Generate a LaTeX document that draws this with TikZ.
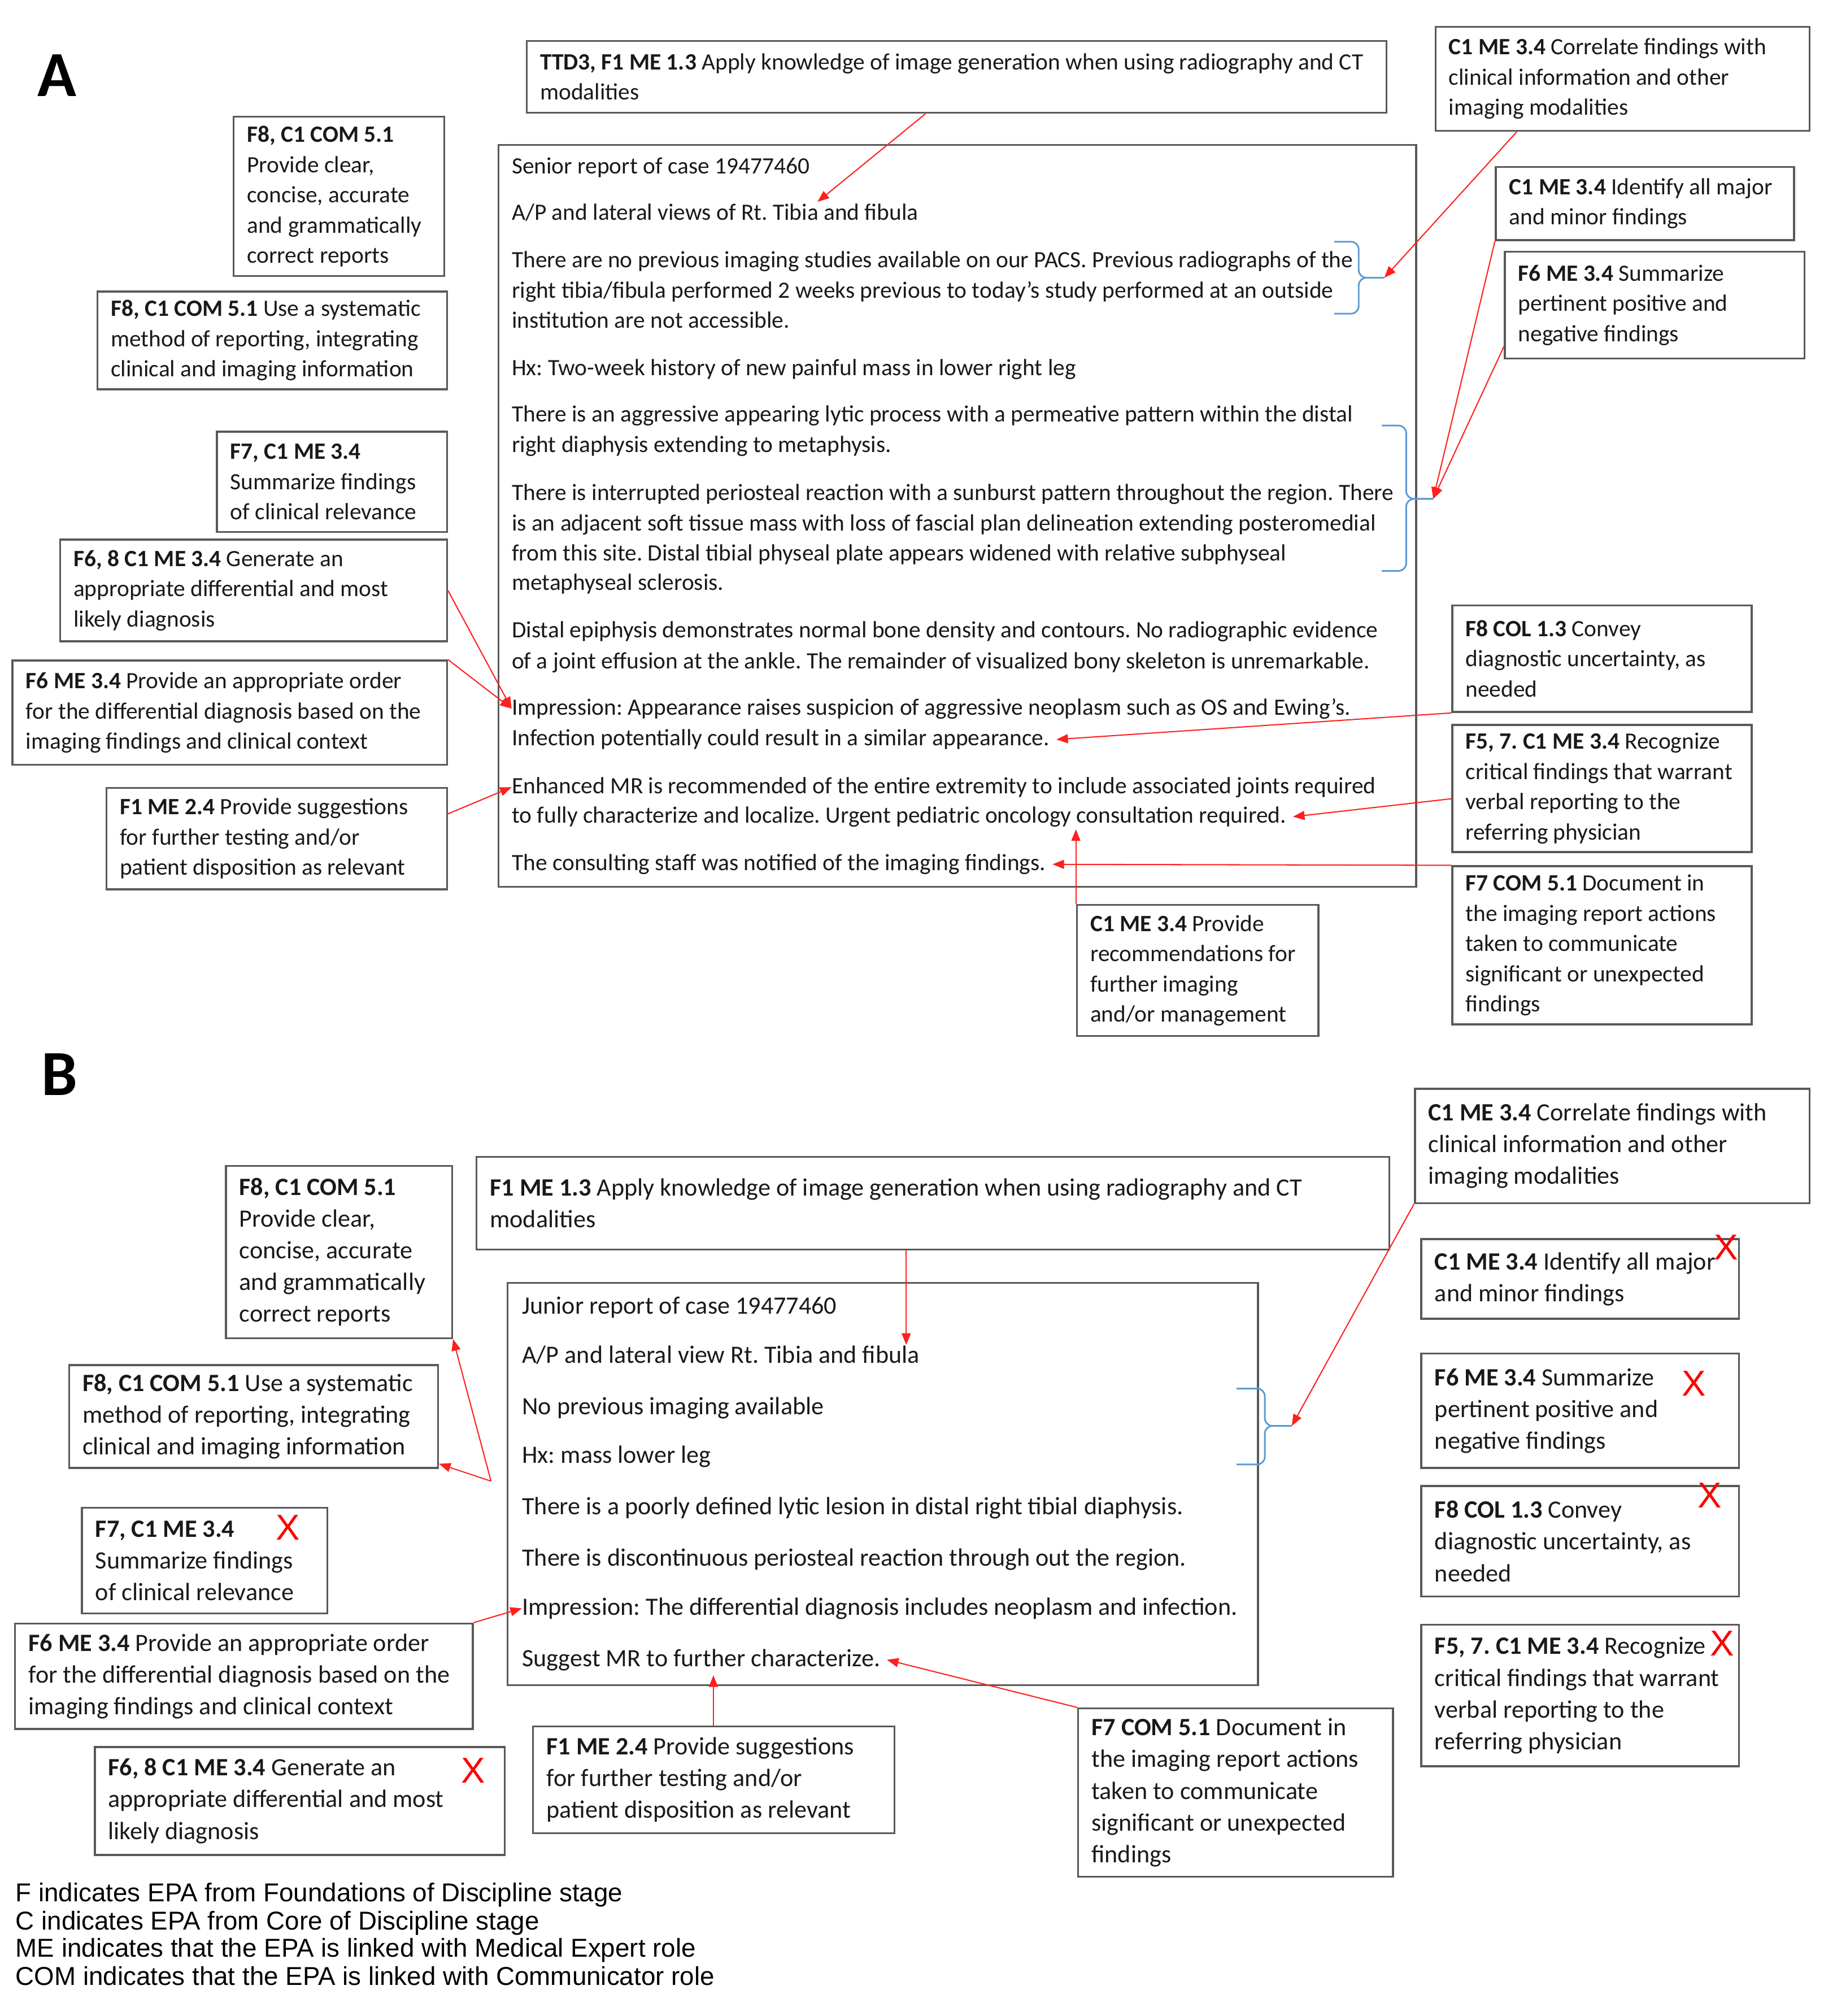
\documentclass[tikz,border=0pt]{standalone}
\usepackage{fontspec}
\setmainfont{Carlito}
\newfontfamily\legfont{Liberation Sans}
\usetikzlibrary{arrows.meta}
\definecolor{boxgray}{HTML}{595959}
\definecolor{brblue}{HTML}{5B9BD5}
\definecolor{arred}{HTML}{FF1F1F}
\newcommand\fA{\fontsize{18.2}{23.5}\selectfont}
\newcommand\fB{\fontsize{19.4}{24.7}\selectfont}
\newcommand\bx[7]{%
  \node[frame, minimum width=#4pt, minimum height=#5pt] (#1) at (#2,#3) {};
  \node[btext, font=#6] (#1t) at ([xshift=11pt]#1.west) {#7};}
\newcommand\brc[7]{%
  \draw[bracepath] (#2,#5) -- (#3,#5) -- (#3,#6) -- (#4,#6);
  \draw[bracepath] (#2,#7) -- (#3,#7) -- (#3,#6) -- (#4,#6);
  \coordinate (#1) at (#4,#6);}
\begin{document}
\frenchspacing
\begin{tikzpicture}[x=1pt,y=-1pt,
  frame/.style={draw=boxgray, line width=1.5pt, anchor=north west, inner sep=0pt},
  btext/.style={anchor=west, align=left, inner sep=0pt, text=black!90},
  rlA/.style={anchor=base west, inner sep=0pt, font=\fA, text=black!90},
  rlB/.style={anchor=base west, inner sep=0pt, font=\fB, text=black!90},
  arr/.style={draw=arred, line width=0.9pt, -{Triangle[length=9pt,width=7pt]}},
  bracepath/.style={draw=brblue, line width=1.3pt, rounded corners=6pt},
  xmark/.style={text=red, font=\legfont\fontsize{28}{28}\selectfont, inner sep=0pt},
  panel/.style={anchor=base west, inner sep=0pt, font=\bfseries\fontsize{50}{50}\selectfont},
  leg/.style={anchor=base west, inner sep=0pt, font=\legfont\fontsize{20.1}{21.7}\selectfont}]
\useasboundingbox (0,0) rectangle (1419,1568);

% ---------------- Panel A ----------------
\node[panel] (labA) at (29,75) {A};

\bx{ttdA}{409}{31}{669}{56}{\fA}{\textbf{TTD3, F1 ME 1.3} Apply knowledge of image generation when using radiography and CT\\modalities}
\bx{corA}{1116}{20}{291}{81}{\fA}{\textbf{C1 ME 3.4} Correlate findings with\\clinical information and other\\imaging modalities}
\bx{idA}{1163}{129}{232}{57}{\fA}{\textbf{C1 ME 3.4} Identify all major\\and minor findings}
\bx{sumA}{1170}{195}{233}{83}{\fA}{\textbf{F6 ME 3.4} Summarize\\pertinent positive and\\negative findings}
\bx{provA}{181}{90}{164}{124}{\fA}{\textbf{F8, C1 COM 5.1}\\Provide clear,\\concise, accurate\\and grammatically\\correct reports}
\bx{useA}{75}{226}{272}{76}{\fA}{\textbf{F8, C1 COM 5.1} Use a systematic\\method of reporting, integrating\\clinical and imaging information}
\bx{f7A}{168}{335}{179}{78}{\fA}{\textbf{F7, C1 ME 3.4}\\Summarize findings\\of clinical relevance}
\bx{genA}{46}{419}{301}{79}{\fA}{\textbf{F6, 8 C1 ME 3.4} Generate an\\appropriate differential and most\\likely diagnosis}
\bx{ordA}{9}{513}{338}{81}{\fA}{\textbf{F6 ME 3.4} Provide an appropriate order\\for the differential diagnosis based on the\\imaging findings and clinical context}
\bx{f1A}{82}{612}{265}{79}{\fA}{\textbf{F1 ME 2.4} Provide suggestions\\for further testing and/or\\patient disposition as relevant}
\bx{colA}{1129}{470}{233}{83}{\fA}{\textbf{F8 COL 1.3} Convey\\diagnostic uncertainty, as\\needed}
\bx{recA}{1129}{563}{233}{99}{\fA}{\textbf{F5, 7. C1 ME 3.4} Recognize\\critical findings that warrant\\verbal reporting to the\\referring physician}
\bx{docA}{1129}{673}{233}{123}{\fA}{\textbf{F7 COM 5.1} Document in\\the imaging report actions\\taken to communicate\\significant or unexpected\\findings}
\bx{furA}{837}{703}{188}{102}{\fA}{\textbf{C1 ME 3.4} Provide\\recommendations for\\further imaging\\and/or management}

\node[frame, minimum width=714pt, minimum height=577pt] (repA) at (387,112) {};
\node[rlA] (a1) at (398,135) {Senior report of case 19477460};
\node[rlA] (a2) at (398,171) {A/P and lateral views of Rt. Tibia and fibula};
\node[rlA] (a3) at (398,208) {There are no previous imaging studies available on our PACS. Previous radiographs of the};
\node[rlA] (a4) at (398,232) {right tibia/fibula performed 2 weeks previous to today’s study performed at an outside};
\node[rlA] (a5) at (398,255) {institution are not accessible.};
\node[rlA] (a6) at (398,292) {Hx: Two-week history of new painful mass in lower right leg};
\node[rlA] (a7) at (398,328) {There is an aggressive appearing lytic process with a permeative pattern within the distal};
\node[rlA] (a8) at (398,352) {right diaphysis extending to metaphysis.};
\node[rlA] (a9) at (398,389) {There is interrupted periosteal reaction with a sunburst pattern throughout the region. There};
\node[rlA] (a10) at (398,413) {is an adjacent soft tissue mass with loss of fascial plan delineation extending posteromedial};
\node[rlA] (a11) at (398,436) {from this site. Distal tibial physeal plate appears widened with relative subphyseal};
\node[rlA] (a12) at (398,459) {metaphyseal sclerosis.};
\node[rlA] (a13) at (398,496) {Distal epiphysis demonstrates normal bone density and contours. No radiographic evidence};
\node[rlA] (a14) at (398,520) {of a joint effusion at the ankle. The remainder of visualized bony skeleton is unremarkable.};
\node[rlA] (a15) at (398,556) {Impression: Appearance raises suspicion of aggressive neoplasm such as OS and Ewing’s.};
\node[rlA] (a16) at (398,580) {Infection potentially could result in a similar appearance.};
\node[rlA] (a17) at (398,617) {Enhanced MR is recommended of the entire extremity to include associated joints required};
\node[rlA] (a18) at (398,640) {to fully characterize and localize. Urgent pediatric oncology consultation required.};
\node[rlA] (a19) at (398,677) {The consulting staff was notified of the imaging findings.};

\brc{bA1}{1038}{1057}{1077}{188}{216}{244}
\brc{bA2}{1075}{1094}{1115}{331}{388}{444}

\draw[arr] ([xshift=311pt]ttdA.south west) -- ([xshift=238pt,yshift=14pt]a2.base west);
\draw[arr] ([xshift=64pt]corA.south west) -- (bA1);
\draw[arr] (idA.south west) -- (bA2);
\draw[arr] ([yshift=10pt]sumA.south west) -- (bA2);
\draw[arr] (genA.east) -- (a15.west);
\draw[arr] (ordA.north east) -- (a15.west);
\draw[arr] ([yshift=-21pt]f1A.north east) -- (a17.west);
\draw[arr] (colA.south west) -- ([xshift=5pt]a16.east);
\draw[arr] ([yshift=-8pt]recA.west) -- ([xshift=5pt]a18.east);
\draw[arr] (docA.north west) -- ([xshift=5pt]a19.east);
\draw[arr] (furA.north west) -- ++(0,-58);

% ---------------- Panel B ----------------
\node[panel] (labB) at (32,852) {B};

\bx{ttdB}{370}{899}{710}{72}{\fB}{\textbf{F1 ME 1.3} Apply knowledge of image generation when using radiography and CT\\modalities}
\bx{corB}{1100}{846}{307}{89}{\fB}{\textbf{C1 ME 3.4} Correlate findings with\\clinical information and other\\imaging modalities}
\bx{idB}{1105}{963}{247}{62}{\fB}{\textbf{C1 ME 3.4} Identify all major\\and minor findings}
\bx{sumB}{1105}{1052}{247}{89}{\fB}{\textbf{F6 ME 3.4} Summarize\\pertinent positive and\\negative findings}
\bx{colB}{1105}{1155}{247}{86}{\fB}{\textbf{F8 COL 1.3} Convey\\diagnostic uncertainty, as\\needed}
\bx{recB}{1105}{1263}{247}{110}{\fB}{\textbf{F5, 7. C1 ME 3.4} Recognize\\critical findings that warrant\\verbal reporting to the\\referring physician}
\bx{provB}{175}{906}{176}{134}{\fB}{\textbf{F8, C1 COM 5.1}\\Provide clear,\\concise, accurate\\and grammatically\\correct reports}
\bx{useB}{53}{1061}{287}{80}{\fB}{\textbf{F8, C1 COM 5.1} Use a systematic\\method of reporting, integrating\\clinical and imaging information}
\bx{f7B}{63}{1172}{191}{82}{\fB}{\textbf{F7, C1 ME 3.4}\\Summarize findings\\of clinical relevance}
\bx{ordB}{11}{1262}{356}{82}{\fB}{\textbf{F6 ME 3.4} Provide an appropriate order\\for the differential diagnosis based on the\\imaging findings and clinical context}
\bx{genB}{73}{1358}{319}{84}{\fB}{\textbf{F6, 8 C1 ME 3.4} Generate an\\appropriate differential and most\\likely diagnosis}
\bx{f1B}{414}{1342}{281}{83}{\fB}{\textbf{F1 ME 2.4} Provide suggestions\\for further testing and/or\\patient disposition as relevant}
\bx{docB}{838}{1328}{245}{131}{\fB}{\textbf{F7 COM 5.1} Document in\\the imaging report actions\\taken to communicate\\significant or unexpected\\findings}

\node[frame, minimum width=584pt, minimum height=313pt] (repB) at (394,997) {};
\node[rlB] (b1) at (406,1022) {Junior report of case 19477460};
\node[rlB] (b2) at (406,1060) {A/P and lateral view Rt. Tibia and fibula};
\node[rlB] (b3) at (406,1100) {No previous imaging available};
\node[rlB] (b4) at (406,1138) {Hx: mass lower leg};
\node[rlB] (b5) at (406,1178) {There is a poorly defined lytic lesion in distal right tibial diaphysis.};
\node[rlB] (b6) at (406,1218) {There is discontinuous periosteal reaction through out the region.};
\node[rlB] (b7) at (406,1256) {Impression: The differential diagnosis includes neoplasm and infection.};
\node[rlB] (b8) at (406,1296) {Suggest MR to further characterize.};

\brc{bB}{962}{984}{1005}{1080}{1109}{1139}

\node[xmark] (x1) at (1343,970) {X};
\node[xmark] (x2) at (1318,1076) {X};
\node[xmark] (x3) at (1330,1163) {X};
\node[xmark] (x4) at (1340,1278) {X};
\node[xmark] (x5) at (224,1188) {X};
\node[xmark] (x6) at (368,1377) {X};

\coordinate (fB) at (382,1152);
\draw[arr] ([xshift=335pt]ttdB.south west) -- ([xshift=299pt,yshift=14pt]b2.base west);
\draw[arr] (corB.south west) -- (bB);
\draw[arr] (fB) -- (provB.south east);
\draw[arr] (fB) -- ([yshift=4pt]useB.south east);
\draw[arr] (ordB.north east) -- (b7.west);
\draw[arr] ([xshift=141pt]f1B.north west) -- ++(0,-39);
\draw[arr] (docB.north west) -- ([xshift=5pt]b8.east);

% ---------------- Legend ----------------
\node[leg] (l1) at (12,1479) {F indicates EPA from Foundations of Discipline stage};
\node[leg] (l2) at (12,1501) {C indicates EPA from Core of Discipline stage};
\node[leg] (l3) at (12,1522) {ME indicates that the EPA is linked with Medical Expert role};
\node[leg] (l4) at (12,1544) {COM indicates that the EPA is linked with Communicator role};
\end{tikzpicture}
\end{document}
